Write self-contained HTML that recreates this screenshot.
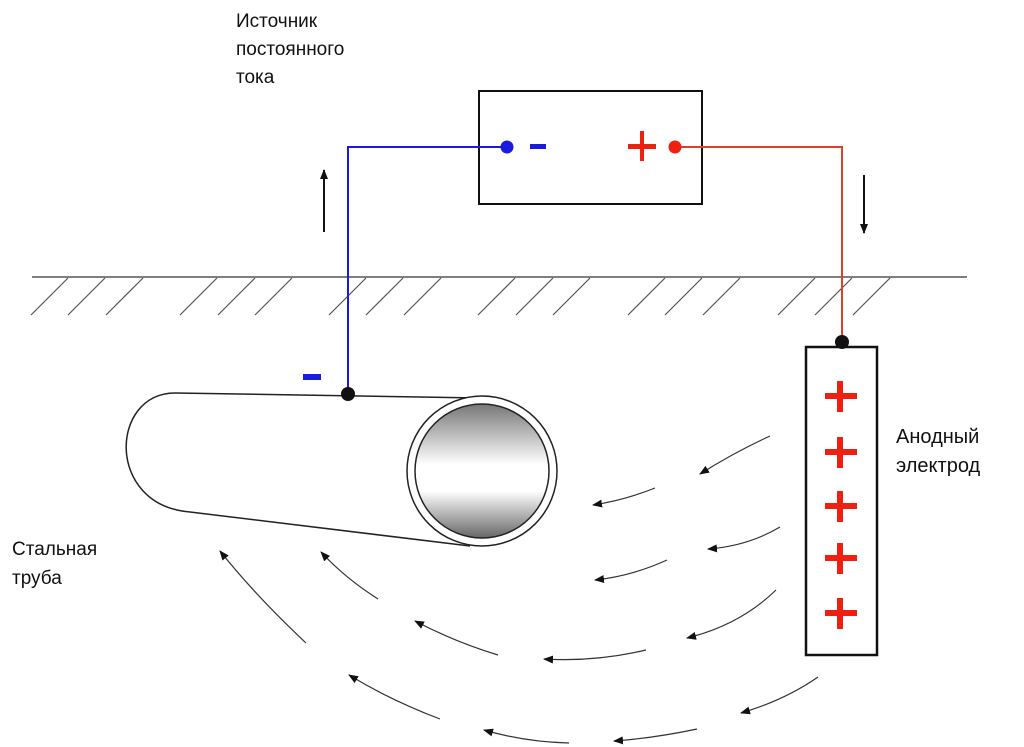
<!DOCTYPE html>
<html><head><meta charset="utf-8"><style>
html,body{margin:0;padding:0;background:#fff;}
svg{display:block;}
text{font-family:"Liberation Sans","DejaVu Sans",sans-serif;font-size:19px;fill:#111;}
</style></head><body>
<svg width="1024" height="747" viewBox="0 0 1024 747" xmlns="http://www.w3.org/2000/svg">
<defs>
<marker id="ah" markerWidth="10" markerHeight="8" refX="9" refY="4" orient="auto" markerUnits="userSpaceOnUse">
<path d="M0,0 L10,4 L0,8 z" fill="#111"/></marker>
<linearGradient id="g" x1="0" y1="0" x2="0" y2="1">
<stop offset="0" stop-color="#777"/><stop offset="0.45" stop-color="#fff"/><stop offset="0.65" stop-color="#fff"/><stop offset="1" stop-color="#666"/></linearGradient>
</defs>
<text x="236" y="27">Источник</text>
<text x="236" y="55">постоянного</text>
<text x="236" y="83">тока</text>
<text x="896" y="443" font-size="20" style="font-size:20px">Анодный</text>
<text x="896" y="472" style="font-size:20px">электрод</text>
<text x="12" y="555">Стальная</text>
<text x="12" y="584">труба</text>

<!-- ground -->
<line x1="32" y1="277" x2="967" y2="277" stroke="#555" stroke-width="1.5"/>
<g stroke="#555" stroke-width="1.2">
<line x1="68" y1="278" x2="31" y2="315"/><line x1="105" y1="278" x2="68" y2="315"/><line x1="143" y1="278" x2="106" y2="315"/>
<line x1="217" y1="278" x2="180" y2="315"/><line x1="255" y1="278" x2="218" y2="315"/><line x1="292" y1="278" x2="255" y2="315"/>
<line x1="366" y1="278" x2="329" y2="315"/><line x1="403" y1="278" x2="366" y2="315"/><line x1="441" y1="278" x2="404" y2="315"/>
<line x1="515" y1="278" x2="478" y2="315"/><line x1="553" y1="278" x2="516" y2="315"/><line x1="590" y1="278" x2="553" y2="315"/>
<line x1="665" y1="278" x2="628" y2="315"/><line x1="702" y1="278" x2="665" y2="315"/><line x1="740" y1="278" x2="703" y2="315"/>
<line x1="815" y1="278" x2="778" y2="315"/><line x1="852" y1="278" x2="815" y2="315"/><line x1="890" y1="278" x2="853" y2="315"/>
</g>

<!-- source box -->
<rect x="479" y="91" width="223" height="113" fill="#fff" stroke="#111" stroke-width="2"/>
<polyline points="507,147 348,147 348,393" fill="none" stroke="#1a1ad8" stroke-width="2"/>
<polyline points="675,147 842,147 842,342" fill="none" stroke="#e0402a" stroke-width="2"/>
<circle cx="507" cy="147" r="6.5" fill="#1a1ae0"/>
<rect x="530" y="144" width="16" height="5" fill="#1a1ae0"/>
<circle cx="675" cy="147" r="6.5" fill="#f02010"/>
<rect x="628" y="144" width="28" height="5" fill="#f02010"/>
<rect x="640" y="131" width="4" height="30" fill="#f02010"/>

<!-- arrows vertical -->
<line x1="324" y1="232" x2="324" y2="170" stroke="#111" stroke-width="2" marker-end="url(#ah)"/>
<line x1="864" y1="175" x2="864" y2="233" stroke="#111" stroke-width="2" marker-end="url(#ah)"/>

<!-- pipe -->
<path d="M175,393 L480,398 M190,512 L470,546" stroke="#222" stroke-width="1.5" fill="none"/>
<path d="M175,393 C110,393 105,505 190,512" stroke="#222" stroke-width="1.5" fill="none"/>
<ellipse cx="482" cy="471" rx="75" ry="75" fill="#fff" stroke="#222" stroke-width="1.5"/>
<ellipse cx="482" cy="471" rx="67" ry="67" fill="url(#g)" stroke="#222" stroke-width="1.5"/>
<rect x="303" y="374" width="18" height="6" fill="#1a1ae0"/>
<circle cx="348" cy="394" r="7" fill="#111"/>

<!-- electrode -->
<rect x="806" y="347" width="71" height="308" fill="#fff" stroke="#111" stroke-width="2.5"/>
<circle cx="842" cy="342" r="7" fill="#111"/>
<g fill="#f02010">
<rect x="825" y="393" width="32" height="6"/><rect x="837" y="381" width="6" height="31"/>
<rect x="825" y="449" width="32" height="6"/><rect x="837" y="437" width="6" height="31"/>
<rect x="825" y="503" width="32" height="6"/><rect x="837" y="491" width="6" height="31"/>
<rect x="825" y="555" width="32" height="6"/><rect x="837" y="543" width="6" height="31"/>
<rect x="825" y="610" width="32" height="6"/><rect x="837" y="598" width="6" height="31"/>
</g>

<!-- current arrows -->
<g fill="none" stroke="#333" stroke-width="1.2" marker-end="url(#ah)">
<path d="M770,436 Q735,452 700,474"/>
<path d="M655,488 Q625,500 593,505"/>
<path d="M780,527 Q748,546 708,549"/>
<path d="M667,560 Q632,576 595,580"/>
<path d="M776,590 Q740,625 687,638"/>
<path d="M646,650 Q595,662 544,659"/>
<path d="M818,677 Q785,700 741,713"/>
<path d="M697,729 Q655,738 614,741"/>
<path d="M569,743 Q525,742 484,730"/>
<path d="M440,719 Q390,700 349,675"/>
<path d="M498,655 Q455,642 415,621"/>
<path d="M378,599 Q345,578 321,552"/>
<path d="M306,643 Q255,595 220,551"/>
</g>
</svg>
</body></html>
